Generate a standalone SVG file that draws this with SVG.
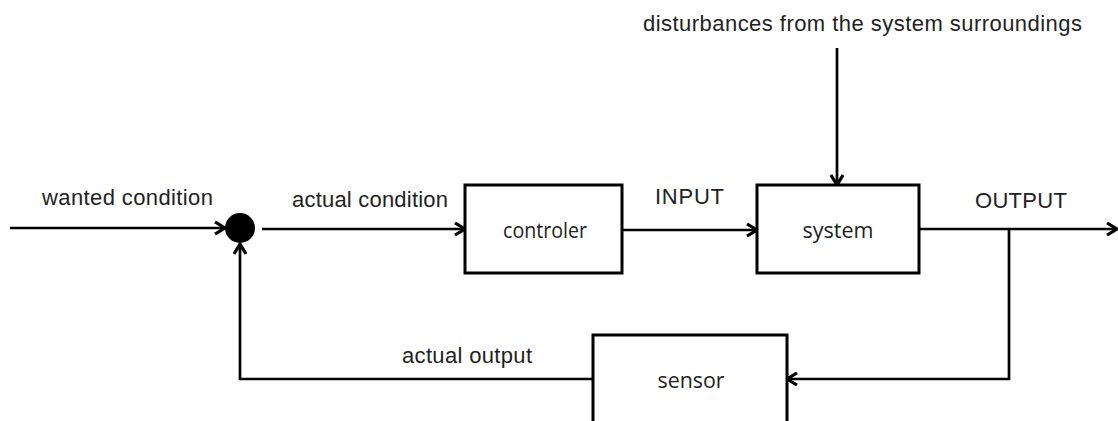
<svg xmlns="http://www.w3.org/2000/svg" width="1118" height="421" viewBox="0 0 1118 421">
<style>
.box{fill:#fff;stroke:#000;stroke-width:3}
.ln{fill:none;stroke:#000;stroke-width:2.7;marker-end:url(#arr)}
.lbl{font-family:"Liberation Sans",Arial,sans-serif;font-size:22px;fill:#222}
.bt{font-family:"Open Sans","Noto Sans",sans-serif;font-size:22px;fill:#222;text-anchor:middle}
</style>
<defs>
<marker id="arr" viewBox="0 0 12 14" refX="11" refY="7" markerWidth="12" markerHeight="14" markerUnits="userSpaceOnUse" orient="auto">
<path d="M1,1 L11,7 L1,13" fill="none" stroke="#000" stroke-width="3.2"/>
</marker>
</defs>
<rect width="1118" height="421" fill="#fff"/>
<g id="connectors">
<path class="ln" d="M10,228 H225"/>
<path class="ln" d="M262,229 H465"/>
<path class="ln" d="M622,230 H757"/>
<path class="ln" d="M837,48 V185"/>
<path class="ln" d="M919,229 H1117"/>
<path class="ln" d="M1009,229 V379 H787"/>
<path class="ln" d="M593,379 H240 V244"/>
</g>
<g id="sum"><circle cx="240" cy="228" r="15" fill="#000"/></g>
<g id="controler"><rect class="box" x="465" y="185" width="157" height="88"/><text class="bt" x="545" y="238" textLength="84" lengthAdjust="spacingAndGlyphs">controler</text></g>
<g id="system"><rect class="box" x="757" y="185" width="162" height="88"/><text class="bt" x="838" y="238" textLength="71" lengthAdjust="spacingAndGlyphs">system</text></g>
<g id="sensor"><rect class="box" x="593" y="335" width="194" height="100"/><text class="bt" x="691" y="388" textLength="67" lengthAdjust="spacingAndGlyphs">sensor</text></g>
<g id="labels">
<text class="lbl" x="42" y="205" textLength="171">wanted condition</text>
<text class="lbl" x="292" y="207" textLength="156">actual condition</text>
<text class="lbl" x="655" y="204" textLength="69">INPUT</text>
<text class="lbl" x="975" y="208" textLength="92">OUTPUT</text>
<text class="lbl" x="643" y="31" textLength="439">disturbances from the system surroundings</text>
<text class="lbl" x="402" y="363" textLength="130">actual output</text>
</g>
</svg>
